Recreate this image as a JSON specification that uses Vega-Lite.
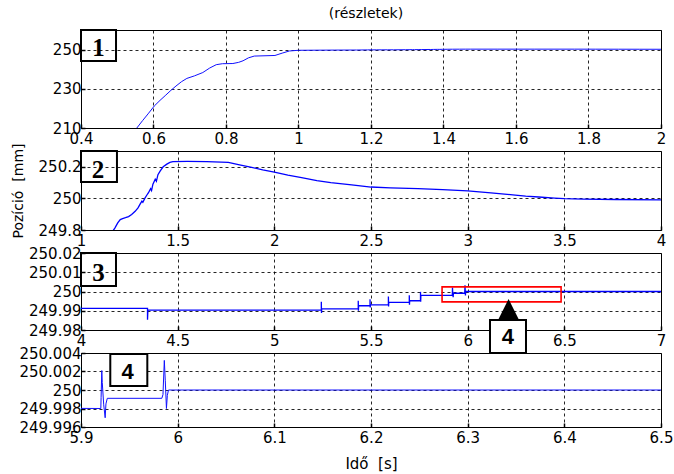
{
  "$schema": "https://vega.github.io/schema/vega-lite/v6.json",
  "background": "white",
  "padding": {"left": 10, "top": 6, "right": 10, "bottom": 4},
  "title": {"text": "(részletek)", "font": "DejaVu Sans", "fontSize": 14, "fontWeight": "normal", "color": "black", "frame": "group", "anchor": "middle", "offset": 8, "dx": -5},
  "datasets": {
    "pos": [
      {"i": 0, "t": 0.52, "p": 202},
      {"i": 1, "t": 0.554, "p": 210},
      {"i": 2, "t": 0.57, "p": 213.8},
      {"i": 3, "t": 0.585, "p": 217.2},
      {"i": 4, "t": 0.602, "p": 221.2},
      {"i": 5, "t": 0.618, "p": 224.1},
      {"i": 6, "t": 0.634, "p": 226.8},
      {"i": 7, "t": 0.648, "p": 229.2},
      {"i": 8, "t": 0.662, "p": 231.4},
      {"i": 9, "t": 0.677, "p": 233.6},
      {"i": 10, "t": 0.692, "p": 235.3},
      {"i": 11, "t": 0.713, "p": 236.6},
      {"i": 12, "t": 0.736, "p": 238.3},
      {"i": 13, "t": 0.755, "p": 240.6},
      {"i": 14, "t": 0.773, "p": 242.3},
      {"i": 15, "t": 0.79, "p": 242.8},
      {"i": 16, "t": 0.819, "p": 242.9},
      {"i": 17, "t": 0.835, "p": 243.5},
      {"i": 18, "t": 0.847, "p": 244.3},
      {"i": 19, "t": 0.862, "p": 245.8},
      {"i": 20, "t": 0.878, "p": 246.7},
      {"i": 21, "t": 0.935, "p": 247.0},
      {"i": 22, "t": 0.955, "p": 248.2},
      {"i": 23, "t": 0.975, "p": 249.3},
      {"i": 24, "t": 1.0, "p": 249.65},
      {"i": 25, "t": 1.1, "p": 249.75},
      {"i": 26, "t": 1.16, "p": 249.785},
      {"i": 27, "t": 1.175, "p": 249.812},
      {"i": 28, "t": 1.19, "p": 249.845},
      {"i": 29, "t": 1.203, "p": 249.866},
      {"i": 30, "t": 1.215, "p": 249.872},
      {"i": 31, "t": 1.23, "p": 249.878},
      {"i": 32, "t": 1.246, "p": 249.885},
      {"i": 33, "t": 1.262, "p": 249.898},
      {"i": 34, "t": 1.28, "p": 249.918},
      {"i": 35, "t": 1.295, "p": 249.94},
      {"i": 36, "t": 1.305, "p": 249.962},
      {"i": 37, "t": 1.315, "p": 249.983},
      {"i": 38, "t": 1.32, "p": 249.975},
      {"i": 39, "t": 1.33, "p": 250.0},
      {"i": 40, "t": 1.34, "p": 250.02},
      {"i": 41, "t": 1.349, "p": 250.036},
      {"i": 42, "t": 1.36, "p": 250.062},
      {"i": 43, "t": 1.365, "p": 250.05},
      {"i": 44, "t": 1.372, "p": 250.09},
      {"i": 45, "t": 1.384, "p": 250.121},
      {"i": 46, "t": 1.39, "p": 250.108},
      {"i": 47, "t": 1.398, "p": 250.15},
      {"i": 48, "t": 1.41, "p": 250.174},
      {"i": 49, "t": 1.425, "p": 250.2},
      {"i": 50, "t": 1.444, "p": 250.217},
      {"i": 51, "t": 1.46, "p": 250.228},
      {"i": 52, "t": 1.475, "p": 250.233},
      {"i": 53, "t": 1.55, "p": 250.234},
      {"i": 54, "t": 1.65, "p": 250.233},
      {"i": 55, "t": 1.762, "p": 250.228},
      {"i": 56, "t": 1.82, "p": 250.212},
      {"i": 57, "t": 1.883, "p": 250.196},
      {"i": 58, "t": 1.94, "p": 250.18},
      {"i": 59, "t": 2.0, "p": 250.166},
      {"i": 60, "t": 2.07, "p": 250.148},
      {"i": 61, "t": 2.141, "p": 250.132},
      {"i": 62, "t": 2.22, "p": 250.113},
      {"i": 63, "t": 2.292, "p": 250.1},
      {"i": 64, "t": 2.4, "p": 250.085},
      {"i": 65, "t": 2.5, "p": 250.072},
      {"i": 66, "t": 2.6, "p": 250.067},
      {"i": 67, "t": 2.743, "p": 250.062},
      {"i": 68, "t": 2.87, "p": 250.055},
      {"i": 69, "t": 3.0, "p": 250.047},
      {"i": 70, "t": 3.12, "p": 250.035},
      {"i": 71, "t": 3.246, "p": 250.021},
      {"i": 72, "t": 3.3, "p": 250.014},
      {"i": 73, "t": 3.367, "p": 250.009},
      {"i": 74, "t": 3.45, "p": 250.002},
      {"i": 75, "t": 3.5, "p": 249.998},
      {"i": 76, "t": 3.6, "p": 249.995},
      {"i": 77, "t": 3.765, "p": 249.993},
      {"i": 78, "t": 4.0, "p": 249.9912},
      {"i": 79, "t": 4.344, "p": 249.9912},
      {"i": 80, "t": 4.344, "p": 249.9853},
      {"i": 81, "t": 4.346, "p": 249.9903},
      {"i": 82, "t": 5.243, "p": 249.9903},
      {"i": 83, "t": 5.243, "p": 249.9947},
      {"i": 84, "t": 5.244, "p": 249.9888},
      {"i": 85, "t": 5.245, "p": 249.991},
      {"i": 86, "t": 5.434, "p": 249.991},
      {"i": 87, "t": 5.434, "p": 249.9952},
      {"i": 88, "t": 5.435, "p": 249.99},
      {"i": 89, "t": 5.436, "p": 249.9926},
      {"i": 90, "t": 5.495, "p": 249.9926},
      {"i": 91, "t": 5.495, "p": 249.996},
      {"i": 92, "t": 5.496, "p": 249.9917},
      {"i": 93, "t": 5.497, "p": 249.9931},
      {"i": 94, "t": 5.59, "p": 249.9931},
      {"i": 95, "t": 5.59, "p": 249.9974},
      {"i": 96, "t": 5.591, "p": 249.9922},
      {"i": 97, "t": 5.592, "p": 249.9943},
      {"i": 98, "t": 5.698, "p": 249.9943},
      {"i": 99, "t": 5.698, "p": 249.9981},
      {"i": 100, "t": 5.699, "p": 249.9931},
      {"i": 101, "t": 5.7, "p": 249.9952},
      {"i": 102, "t": 5.756, "p": 249.9952},
      {"i": 103, "t": 5.756, "p": 249.9998},
      {"i": 104, "t": 5.757, "p": 249.9947},
      {"i": 105, "t": 5.758, "p": 249.9981},
      {"i": 106, "t": 5.9205, "p": 249.998},
      {"i": 107, "t": 5.9208, "p": 249.9992},
      {"i": 108, "t": 5.9215, "p": 250.0021},
      {"i": 109, "t": 5.922, "p": 250.0008},
      {"i": 110, "t": 5.9235, "p": 249.9984},
      {"i": 111, "t": 5.925, "p": 249.997},
      {"i": 112, "t": 5.9258, "p": 249.9985},
      {"i": 113, "t": 5.9272, "p": 249.9991},
      {"i": 114, "t": 5.9836, "p": 249.9991},
      {"i": 115, "t": 5.9848, "p": 249.9995},
      {"i": 116, "t": 5.9862, "p": 250.0032},
      {"i": 117, "t": 5.9872, "p": 250.001},
      {"i": 118, "t": 5.9884, "p": 249.998},
      {"i": 119, "t": 5.9893, "p": 249.9994},
      {"i": 120, "t": 5.9905, "p": 250.0},
      {"i": 121, "t": 7.0, "p": 250.0}
    ]
  },
  "bounds": "flush",
  "spacing": 23,
  "vconcat": [
    {
      "width": 580, "height": 98,
      "layer": [
        {
          "data": {"name": "pos"},
          "mark": {"type": "line", "color": "#1010ff", "strokeWidth": 1, "clip": true},
          "encoding": {
            "x": {"field": "t", "type": "quantitative", "scale": {"domain": [0.4, 2], "nice": false, "zero": false},
                  "axis": {"title": null, "values": [0.4, 0.6, 0.8, 1, 1.2, 1.4, 1.6, 1.8, 2], "labelExpr": "toString(datum.value)"}},
            "y": {"field": "p", "type": "quantitative", "scale": {"domain": [210, 260], "nice": false, "zero": false},
                  "axis": {"title": null, "values": [210, 230, 250], "labelExpr": "toString(datum.value)"}},
            "order": {"field": "i"}
          }
        },
        {
          "data": {"values": [{"t": 0.4, "t2": 0.4966, "p": 260, "p2": 244.2}]},
          "mark": {"type": "rect", "filled": false, "stroke": "black", "strokeWidth": 2},
          "encoding": {"x": {"field": "t", "type": "quantitative"}, "x2": {"field": "t2"}, "y": {"field": "p", "type": "quantitative"}, "y2": {"field": "p2"}}
        },
        {
          "data": {"values": [{"t": 0.4483, "p": 250.8, "lab": "1"}]},
          "mark": {"type": "text", "font": "Liberation Serif", "fontWeight": "bold", "fontSize": 25, "align": "center", "baseline": "middle", "color": "black"},
          "encoding": {"x": {"field": "t", "type": "quantitative"}, "y": {"field": "p", "type": "quantitative"}, "text": {"field": "lab"}}
        }
      ]
    },
    {
      "width": 580, "height": 79,
      "layer": [
        {
          "data": {"name": "pos"},
          "mark": {"type": "line", "color": "#0000ff", "strokeWidth": 1.3, "clip": true},
          "encoding": {
            "x": {"field": "t", "type": "quantitative", "scale": {"domain": [1, 4], "nice": false, "zero": false},
                  "axis": {"title": null, "values": [1, 1.5, 2, 2.5, 3, 3.5, 4], "labelExpr": "toString(datum.value)"}},
            "y": {"field": "p", "type": "quantitative", "scale": {"domain": [249.8, 250.3], "nice": false, "zero": false},
                  "axis": {"title": "Pozíció\u00a0 [mm]", "titleAngle": -90, "titleX": -63, "titleY": 39.5, "titleAlign": "center", "titleBaseline": "middle", "values": [249.8, 250, 250.2], "labelExpr": "toString(datum.value)"}},
            "order": {"field": "i"}
          }
        },
        {
          "data": {"values": [{"t": 1, "t2": 1.186, "p": 250.3, "p2": 250.104}]},
          "mark": {"type": "rect", "filled": false, "stroke": "black", "strokeWidth": 2},
          "encoding": {"x": {"field": "t", "type": "quantitative"}, "x2": {"field": "t2"}, "y": {"field": "p", "type": "quantitative"}, "y2": {"field": "p2"}}
        },
        {
          "data": {"values": [{"t": 1.088, "p": 250.18, "lab": "2"}]},
          "mark": {"type": "text", "font": "Liberation Serif", "fontWeight": "bold", "fontSize": 25, "align": "center", "baseline": "middle", "color": "black"},
          "encoding": {"x": {"field": "t", "type": "quantitative"}, "y": {"field": "p", "type": "quantitative"}, "text": {"field": "lab"}}
        }
      ]
    },
    {
      "width": 580, "height": 77,
      "layer": [
        {
          "data": {"name": "pos"},
          "mark": {"type": "line", "color": "#0000ff", "strokeWidth": 1.3, "clip": true},
          "encoding": {
            "x": {"field": "t", "type": "quantitative", "scale": {"domain": [4, 7], "nice": false, "zero": false},
                  "axis": {"title": null, "values": [4, 4.5, 5, 5.5, 6, 6.5, 7], "labelExpr": "toString(datum.value)"}},
            "y": {"field": "p", "type": "quantitative", "scale": {"domain": [249.98, 250.02], "nice": false, "zero": false},
                  "axis": {"title": null, "values": [249.98, 249.99, 250, 250.01, 250.02], "labelExpr": "toString(datum.value)"}},
            "order": {"field": "i"}
          }
        },
        {
          "data": {"values": [{"t": 4.0, "t2": 4.181, "p": 250.02, "p2": 250.0029}]},
          "mark": {"type": "rect", "filled": false, "stroke": "black", "strokeWidth": 2},
          "encoding": {"x": {"field": "t", "type": "quantitative"}, "x2": {"field": "t2"}, "y": {"field": "p", "type": "quantitative"}, "y2": {"field": "p2"}}
        },
        {
          "data": {"values": [{"t": 4.09, "p": 250.0098, "lab": "3"}]},
          "mark": {"type": "text", "font": "Liberation Serif", "fontWeight": "bold", "fontSize": 25, "align": "center", "baseline": "middle", "color": "black"},
          "encoding": {"x": {"field": "t", "type": "quantitative"}, "y": {"field": "p", "type": "quantitative"}, "text": {"field": "lab"}}
        },
        {
          "data": {"values": [{"t": 5.8676, "t2": 6.4832, "p": 250.0024, "p2": 249.9946}]},
          "mark": {"type": "rect", "filled": false, "stroke": "#ff0000", "strokeWidth": 1.6},
          "encoding": {"x": {"field": "t", "type": "quantitative"}, "x2": {"field": "t2"}, "y": {"field": "p", "type": "quantitative"}, "y2": {"field": "p2"}}
        },
        {
          "data": {"values": [{"t": 6.2116, "p": 249.9907}]},
          "mark": {"type": "point", "shape": "M-1,1L1,1L0,-1Z", "size": 441, "filled": true, "fill": "black", "opacity": 1, "strokeWidth": 0},
          "encoding": {"x": {"field": "t", "type": "quantitative"}, "y": {"field": "p", "type": "quantitative"}}
        },
        {
          "data": {"values": [{"t": 6.1155, "t2": 6.3017, "p": 249.9852, "p2": 249.9681}]},
          "mark": {"type": "rect", "fill": "white", "stroke": "black", "strokeWidth": 2},
          "encoding": {"x": {"field": "t", "type": "quantitative"}, "x2": {"field": "t2"}, "y": {"field": "p", "type": "quantitative"}, "y2": {"field": "p2"}}
        },
        {
          "data": {"values": [{"t": 6.2086, "p": 249.9766, "lab": "4"}]},
          "mark": {"type": "text", "font": "Liberation Sans", "fontWeight": "bold", "fontSize": 22, "align": "center", "baseline": "middle", "color": "black"},
          "encoding": {"x": {"field": "t", "type": "quantitative"}, "y": {"field": "p", "type": "quantitative"}, "text": {"field": "lab"}}
        }
      ]
    },
    {
      "width": 580, "height": 74,
      "layer": [
        {
          "data": {"name": "pos"},
          "mark": {"type": "line", "color": "#1010ff", "strokeWidth": 1, "clip": true},
          "encoding": {
            "x": {"field": "t", "type": "quantitative", "scale": {"domain": [5.9, 6.5], "nice": false, "zero": false},
                  "axis": {"title": "Idő\u00a0 [s]", "titleFontSize": 15, "titleY": 36, "titleBaseline": "middle", "values": [5.9, 6, 6.1, 6.2, 6.3, 6.4, 6.5], "labelExpr": "toString(datum.value)"}},
            "y": {"field": "p", "type": "quantitative", "scale": {"domain": [249.996, 250.004], "nice": false, "zero": false},
                  "axis": {"title": null, "values": [249.996, 249.998, 250, 250.002, 250.004], "labelExpr": "toString(datum.value)"}},
            "order": {"field": "i"}
          }
        },
        {
          "data": {"values": [{"t": 5.9303, "t2": 5.9686, "p": 250.0039, "p2": 250.00043}]},
          "mark": {"type": "rect", "fill": "white", "stroke": "black", "strokeWidth": 2},
          "encoding": {"x": {"field": "t", "type": "quantitative"}, "x2": {"field": "t2"}, "y": {"field": "p", "type": "quantitative"}, "y2": {"field": "p2"}}
        },
        {
          "data": {"values": [{"t": 5.9482, "p": 250.00195, "lab": "4"}]},
          "mark": {"type": "text", "font": "Liberation Sans", "fontWeight": "bold", "fontSize": 22, "align": "center", "baseline": "middle", "color": "black"},
          "encoding": {"x": {"field": "t", "type": "quantitative"}, "y": {"field": "p", "type": "quantitative"}, "text": {"field": "lab"}}
        }
      ]
    }
  ],
  "config": {
    "view": {"stroke": "black", "strokeWidth": 1},
    "axis": {
      "labelFont": "DejaVu Sans", "labelFontSize": 15, "labelColor": "black",
      "ticks": true, "tickSize": -4, "tickColor": "black", "tickWidth": 1.5, "tickCount": 30,
      "domain": false,
      "grid": true, "gridColor": "black", "gridDash": [3, 3], "gridOpacity": 0.85, "gridWidth": 1,
      "labelFlush": false, "labelOverlap": false,
      "titleFont": "DejaVu Sans", "titleFontSize": 14, "titleFontWeight": "normal", "titleColor": "black"
    },
    "axisX": {"labelPadding": 7},
    "axisY": {"labelPadding": 4}
  }
}
